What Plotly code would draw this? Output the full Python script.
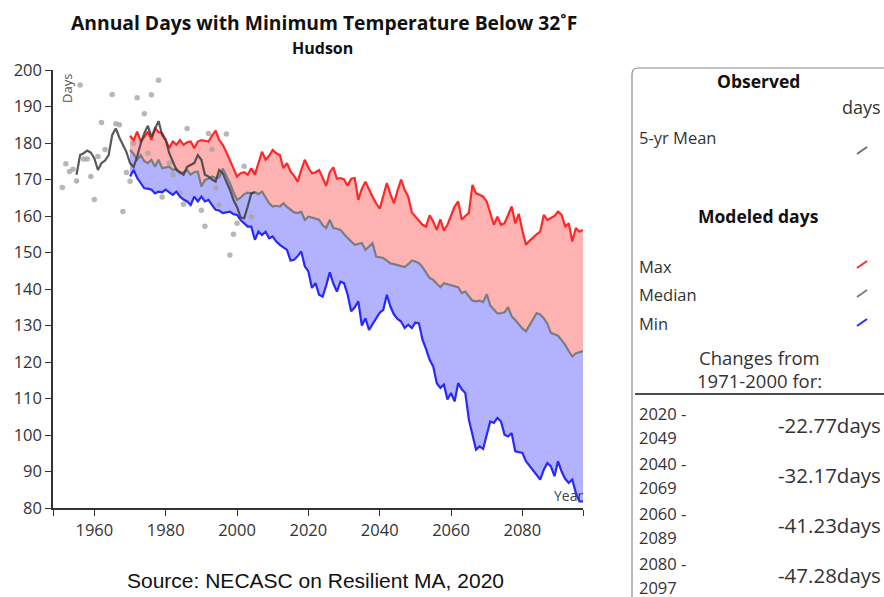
import plotly.graph_objects as go

# ---------------- data ----------------
model_start = 1970
max_days = [
    182.0, 180.8, 183.1, 180.4, 181.7, 183.1, 180.8, 184.0, 183.0, 182.7,
    180.8, 178.6, 180.4, 179.5, 180.8, 179.5, 180.2, 180.4, 178.6, 180.4,
    180.8, 180.6, 180.4, 182.0, 183.4, 180.8, 179.5, 177.5, 175.4, 173.0,
    170.8, 171.7, 172.0, 171.3, 173.1, 171.3, 174.5, 177.6, 175.4, 176.5,
    178.1, 177.2, 176.7, 173.1, 174.5, 172.2, 171.0, 169.4, 172.6, 175.4,
    173.2, 171.7, 172.0, 172.6, 170.5, 168.3, 172.0, 173.3, 170.2, 170.4,
    170.0, 168.3, 170.2, 170.4, 164.4, 167.5, 169.4, 167.2, 165.3, 163.5,
    162.0, 165.5, 169.0, 166.0, 163.5, 167.0, 170.0, 167.2, 165.3, 161.0,
    159.8, 158.5, 157.6, 157.1, 160.2, 158.5, 156.2, 159.1, 156.0, 157.6,
    160.0, 162.6, 164.0, 159.0, 160.0, 160.8, 168.5, 166.2, 165.8, 165.3,
    164.0, 161.0, 157.6, 159.8, 157.6, 158.0, 160.5, 162.6, 158.0, 160.6,
    156.0, 152.1, 153.2, 154.2, 155.0, 155.7, 160.3, 158.9, 159.5, 160.0,
    161.2, 160.3, 157.1, 158.0, 153.0, 156.7, 155.7, 156.2,
]
median_days = [
    178.1, 177.0, 175.4, 176.7, 175.0, 174.5, 175.4, 173.5, 175.4, 173.1,
    173.3, 173.5, 172.6, 173.0, 171.7, 172.0, 172.6, 171.3, 172.0, 172.2,
    168.1, 169.9, 170.3, 170.8, 170.4, 170.6, 173.0, 171.0, 169.0, 166.5,
    164.4, 165.0, 166.0, 166.4, 166.2, 166.5, 166.0, 166.7, 164.9, 163.5,
    162.6, 162.8, 162.6, 163.5, 162.5, 161.7, 161.0, 160.8, 161.2, 158.9,
    159.8, 159.6, 159.4, 159.0, 157.5, 156.7, 158.9, 156.7, 156.5, 156.2,
    155.0, 153.9, 153.0, 152.1, 152.4, 152.6, 150.7, 151.8, 152.6, 148.9,
    148.7, 148.5, 147.8, 147.0, 146.8, 146.5, 146.3, 146.0, 146.8, 147.8,
    147.5, 147.1, 146.0, 144.4, 143.0, 142.5, 141.5, 140.5, 141.6, 141.3,
    141.2, 140.9, 140.5, 138.9, 139.3, 138.0, 136.8, 136.6, 136.8, 136.4,
    138.6, 135.5, 134.5, 133.3, 133.4, 133.6, 135.0, 132.5, 131.5, 130.2,
    129.2, 128.4, 130.0, 131.8, 133.4, 133.0, 132.0, 130.5, 128.0, 127.6,
    127.2, 126.0, 124.7, 123.0, 121.5, 122.4, 122.7, 122.9,
]
min_days = [
    170.8, 172.6, 170.4, 169.0, 167.6, 167.5, 167.2, 166.2, 166.7, 166.5,
    167.2, 166.5, 165.8, 166.7, 165.3, 164.5, 164.0, 163.0, 165.3, 164.0,
    165.3, 164.0, 164.4, 163.0, 161.7, 161.5, 160.8, 161.0, 161.2, 160.5,
    160.3, 158.9, 158.0, 157.1, 157.1, 153.5, 155.7, 154.8, 155.7, 153.9,
    154.4, 153.0, 152.1, 151.5, 150.7, 147.8, 148.0, 149.0, 150.3, 146.2,
    144.8, 140.3, 141.6, 138.4, 137.9, 141.0, 144.6, 141.5, 139.3, 142.0,
    141.6, 138.5, 133.9, 135.0, 136.6, 130.0, 132.0, 128.8, 130.5, 132.0,
    133.5, 134.3, 138.4, 135.2, 133.0, 131.8, 131.1, 129.3, 130.2, 129.3,
    130.8, 130.6, 126.1, 123.5, 120.6, 118.8, 114.2, 112.9, 113.8, 109.7,
    111.5, 109.2, 114.2, 112.5, 111.5, 104.2, 100.0, 96.0, 96.9, 96.2,
    100.0, 103.7, 103.3, 104.7, 103.7, 100.1, 99.6, 100.5, 95.5, 95.3,
    95.1, 92.8, 91.6, 90.5, 89.2, 87.8, 90.5, 92.3, 91.4, 88.7,
    92.8, 90.0, 88.0, 86.9, 87.8, 84.1, 81.8, 81.8,
]
model_years = list(range(model_start, model_start + len(max_days)))

mean_start = 1955
obs_mean = [
    171.3, 176.7, 177.2, 177.9, 177.4, 175.8, 172.6, 174.5, 175.2, 176.7,
    182.2, 184.0, 181.5, 179.5, 177.5, 174.5, 173.4, 176.3, 179.9, 182.7,
    184.7, 181.7, 183.8, 186.0, 182.2, 180.8, 177.2, 174.9, 172.6, 172.0,
    171.3, 173.5, 174.0, 174.5, 176.7, 175.4, 171.3, 170.8, 170.0, 169.4,
    172.6, 171.7, 169.4, 167.2, 164.4, 162.5, 159.6, 159.4, 162.6, 166.2,
    166.5,
]
mean_years = list(range(mean_start, mean_start + len(obs_mean)))

obs_years = [1951, 1952, 1953, 1954, 1955, 1956, 1957, 1958, 1959, 1960,
             1961, 1962, 1963, 1965, 1966, 1967, 1968, 1969, 1970, 1971,
             1972, 1974, 1975, 1976, 1978, 1979, 1981, 1982, 1984, 1985,
             1986, 1990, 1991, 1992, 1993, 1994, 1995, 1997, 1998, 1999,
             2000, 2002, 2004, 2005]
obs_days = [167.8, 174.3, 172.2, 172.8, 169.6, 195.9, 175.6, 175.6, 170.8, 164.5,
            176.3, 185.6, 178.2, 193.3, 185.3, 185.0, 161.2, 171.9, 169.5, 179.9,
            192.4, 188.0, 177.2, 193.2, 197.2, 165.2, 174.5, 171.3, 166.2, 163.2,
            184.0, 161.6, 157.2, 182.6, 178.3, 167.6, 163.0, 182.5, 149.3, 155.0,
            158.0, 173.6, 159.8, 172.0]

x_ticks = [1960, 1980, 2000, 2020, 2040, 2060, 2080]
y_ticks = [80, 90, 100, 110, 120, 130, 140, 150, 160, 170, 180, 190, 200]
x_range = [1948.4, 2097]
y_range = [80, 200]

change_periods = [("2020 -", "2049"), ("2040 -", "2069"), ("2060 -", "2089"), ("2080 -", "2097")]
change_values = ["-22.77days", "-32.17days", "-41.23days", "-47.28days"]

# ---------------- layout geometry (page pixels; body margin removed by post_script) ----------------
FW, FH = 884, 597
Lp, Tp, Rp, Bp = 53, 70, 583, 508
W, H = Rp - Lp, Bp - Tp


def px(x):
    return (x - Lp) / W


def py(y):
    return 1 - (y - Tp) / H


FONT = "Open Sans"
fig = go.Figure()

# fills
fig.add_trace(go.Scatter(x=model_years, y=median_days, mode="lines",
                         line=dict(width=0), showlegend=False, hoverinfo="skip"))
fig.add_trace(go.Scatter(x=model_years, y=max_days, mode="lines", fill="tonexty",
                         fillcolor="rgb(255,178,178)", line=dict(width=0),
                         showlegend=False, hoverinfo="skip"))
fig.add_trace(go.Scatter(x=model_years, y=median_days, mode="lines",
                         line=dict(width=0), showlegend=False, hoverinfo="skip"))
fig.add_trace(go.Scatter(x=model_years, y=min_days, mode="lines", fill="tonexty",
                         fillcolor="rgb(178,178,255)", line=dict(width=0),
                         showlegend=False, hoverinfo="skip"))

# dots
fig.add_trace(go.Scatter(x=obs_years, y=obs_days, mode="markers",
                         marker=dict(size=5.5, color="rgba(165,165,165,0.8)"),
                         showlegend=False))

# lines
fig.add_trace(go.Scatter(x=model_years, y=max_days, mode="lines",
                         line=dict(color="rgb(255,40,40)", width=2.2), showlegend=False))
fig.add_trace(go.Scatter(x=model_years, y=median_days, mode="lines",
                         line=dict(color="rgb(125,125,125)", width=2.2), showlegend=False))
fig.add_trace(go.Scatter(x=model_years, y=min_days, mode="lines",
                         line=dict(color="rgb(40,40,255)", width=2.2), showlegend=False))
fig.add_trace(go.Scatter(x=mean_years, y=obs_mean, mode="lines",
                         line=dict(color="rgba(60,60,60,0.85)", width=2.2), showlegend=False))

annotations = []


def ann(text, x, y, size, xanchor="left", yanchor="middle", bold=False,
        color="#222", family=FONT, angle=0):
    if bold:
        text = "<b>" + text + "</b>"
    annotations.append(dict(text=text, x=px(x), y=py(y), xref="paper", yref="paper",
                            showarrow=False, xanchor=xanchor, yanchor=yanchor,
                            textangle=angle,
                            font=dict(size=size, color=color, family=family)))


# titles
ann("Annual Days with Minimum Temperature Below 32˚F", 324, 22, 19.3, "center", bold=True, color="#111")
ann("Hudson", 322, 48, 16, "center", bold=True, color="#111")
ann("Days", 67, 89, 13, "center", color="#555", angle=-90)
ann("Year", 568, 495, 14, "center", color="#444")
ann("Source: NECASC on Resilient MA, 2020", 315, 580, 21, "center", color="#111",
    family="Liberation Sans")

# legend panel
ann("Observed", 758, 81, 17.5, "center", bold=True, color="#111")
ann("days", 883, 107, 18, "right", color="#333")
ann("5-yr Mean", 637, 137, 16.5, "left", color="#333")
ann("Modeled days", 758, 216, 17.5, "center", bold=True, color="#111")
ann("Max", 637, 266, 16.5, "left", color="#333")
ann("Median", 637, 294, 16.5, "left", color="#333")
ann("Min", 637, 323, 16.5, "left", color="#333")
ann("Changes from", 759, 357, 18.5, "center", color="#333")
ann("1971-2000 for:", 759, 380, 18.5, "center", color="#333")
row_y = [413, 463, 513, 563]
for (a, b2), v, yy in zip(change_periods, change_values, row_y):
    ann(a, 637, yy, 16.5, "left", color="#333")
    ann(b2, 637, yy + 24, 16.5, "left", color="#333")
    ann(v, 883, yy + 12, 20.5, "right", color="#333")

shapes = []
# panel border (rounded top-left corner)
x0, x1, y0, y1 = px(632), px(900), py(68), py(620)
rx, ry = 6 / W, 6 / H
shapes.append(dict(type="path", xref="paper", yref="paper",
                   path=f"M {x0},{y1} L {x0},{y0 - ry} Q {x0},{y0} {x0 + rx},{y0} L {x1},{y0}",
                   line=dict(color="#888", width=1.2)))
# separator line
shapes.append(dict(type="line", xref="paper", yref="paper", x0=px(635), x1=px(890),
                   y0=py(394), y1=py(394), line=dict(color="#111", width=1.5)))
# legend glyphs
for yy, col in [(150, "rgb(110,110,110)"), (264, "rgb(255,40,40)"),
                (293, "rgb(125,125,125)"), (322, "rgb(40,40,255)")]:
    shapes.append(dict(type="line", xref="paper", yref="paper",
                       x0=px(857), x1=px(867), y0=py(yy + 4), y1=py(yy - 3),
                       line=dict(color=col, width=2)))

xaxis = dict(range=x_range, tickvals=[x_range[0]] + x_ticks + [x_range[1]],
             ticktext=[""] + [str(t) for t in x_ticks] + [""], automargin=False,
             showgrid=False, zeroline=False, showline=True, linecolor="#333",
             linewidth=1.5, ticks="outside", ticklen=6, tickcolor="#333",
             tickwidth=1.3, tickfont=dict(family=FONT, size=16.5, color="#333"))
yaxis = dict(range=y_range, tickvals=y_ticks, showgrid=False, zeroline=False,
             ticksuffix=" ", automargin=False,
             showline=True, linecolor="#333", linewidth=1.5, ticks="outside",
             ticklen=6, tickcolor="#333", tickwidth=1.3,
             tickfont=dict(family=FONT, size=16.5, color="#333"))

fig.update_layout(
    width=FW, height=FH,
    margin=dict(l=Lp, r=FW - Rp, t=Tp, b=FH - Bp, pad=0, autoexpand=False),
    paper_bgcolor="white", plot_bgcolor="white",
    showlegend=False,
    annotations=annotations, shapes=shapes,
    xaxis=xaxis, yaxis=yaxis,
)

post = ("document.body.style.margin='0';"
        "document.body.style.padding='0';"
        "document.documentElement.style.overflow='hidden';"
        "document.body.style.overflow='hidden';")
fig.write_html("out.html", post_script=post, config={"displayModeBar": False})
